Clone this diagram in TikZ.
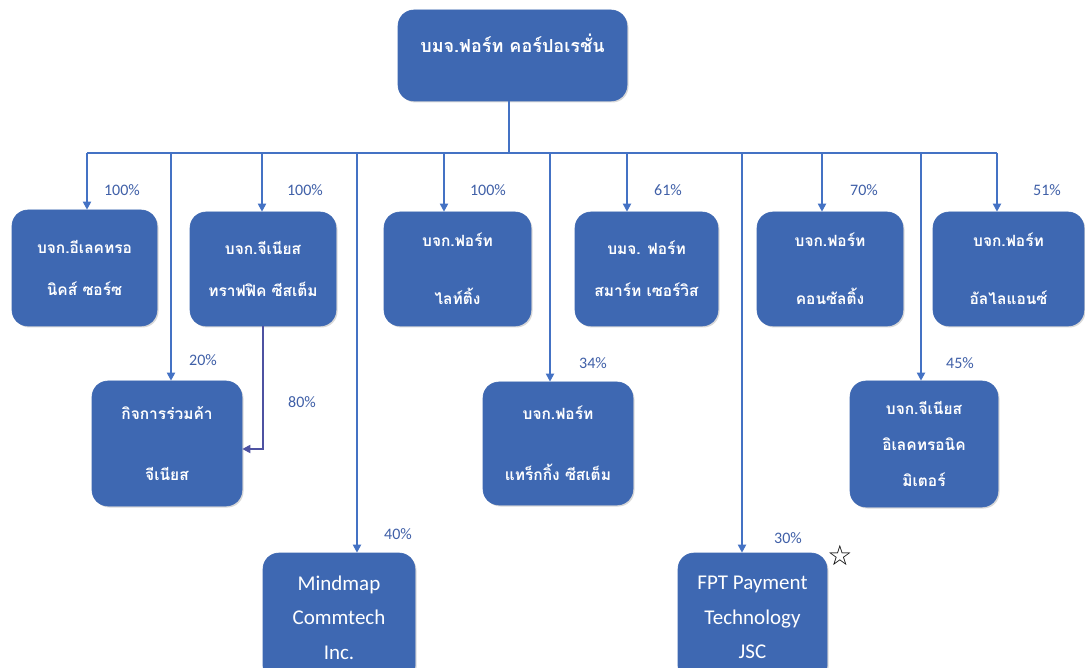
\documentclass[tikz,border=0pt]{standalone}
\usepackage{fontspec}
\setmainfont{Carlito}
\newfontfamily\thaifont[Script=Thai]{Loma}
\newfontfamily\symfont{DejaVu Sans}
\usetikzlibrary{arrows.meta,shadows}
\definecolor{boxfill}{RGB}{62,104,178}
\definecolor{linec}{RGB}{68,114,196}
\definecolor{pctc}{RGB}{64,96,168}
\definecolor{darkline}{RGB}{78,82,162}
\begin{document}
\begin{tikzpicture}[x=1pt,y=-1pt,
  box/.style={rectangle, rounded corners=16pt, fill=boxfill, draw=boxfill, line width=0.6pt,
    text=white, align=center, inner sep=0pt,
    drop shadow={opacity=0.3, shadow xshift=1.5pt, shadow yshift=-1.5pt}},
  thaiA/.style={font=\thaifont\bfseries\fontsize{15.5}{42}\selectfont},
  thaiB/.style={font=\thaifont\bfseries\fontsize{15.5}{58}\selectfont},
  thaiC/.style={font=\thaifont\bfseries\fontsize{15.5}{61}\selectfont},
  thaiD/.style={font=\thaifont\bfseries\fontsize{15.5}{36}\selectfont},
  engbox/.style={font=\fontsize{21}{34.5}\selectfont},
  conn/.style={draw=linec, line width=1.8pt},
  arr/.style={conn, -{Triangle[width=8pt,length=8pt]}},
  arrdark/.style={draw=darkline, line width=1.8pt, -{Triangle[width=8pt,length=8pt]}},
  pct/.style={text=pctc, font=\fontsize{16}{16}\selectfont, inner sep=0pt}
]
\useasboundingbox (0,0) rectangle (1085,668);
\clip (0,0) rectangle (1085,668);
\fill[white] (0,0) rectangle (1085,668);

% top box
\node[box, minimum width=229pt, minimum height=91pt] (top) at (512.5,55.5) {};
\node[text=white, font=\thaifont\bfseries\fontsize{18}{18}\selectfont] (topt) at (512.5,43) {บมจ.ฟอร์ท คอร์ปอเรชั่น};

% first row
\node[box, thaiA, minimum width=145pt, minimum height=116pt] (b1) at (84.5,268) {บจก.อีเลคทรอ\\นิคส์ ซอร์ซ};
\node[box, thaiA, minimum width=146pt, minimum height=114pt] (b2) at (263,269) {บจก.จีเนียส\\ทราฟฟิค ซีสเต็ม};
\node[box, thaiB, minimum width=147pt, minimum height=114pt] (b3) at (457.5,269) {บจก.ฟอร์ท\\ไลท์ติ้ง};
\node[box, thaiA, minimum width=143pt, minimum height=114pt] (b4) at (646.5,269) {บมจ. ฟอร์ท\\สมาร์ท เซอร์วิส};
\node[box, thaiB, minimum width=146pt, minimum height=114pt] (b5) at (830,269) {บจก.ฟอร์ท\\คอนซัลติ้ง};
\node[box, thaiB, minimum width=151pt, minimum height=114pt] (b6) at (1008.5,269) {บจก.ฟอร์ท\\อัลไลแอนซ์};

% second row
\node[box, thaiC, minimum width=150pt, minimum height=125pt] (c1) at (167,443.5) {กิจการร่วมค้า\\จีเนียส};
\node[box, thaiC, minimum width=150pt, minimum height=123pt] (c2) at (558,443.5) {บจก.ฟอร์ท\\แทร็กกิ้ง ซีสเต็ม};
\node[box, thaiD, minimum width=148pt, minimum height=126pt] (c3) at (924,444) {บจก.จีเนียส\\อิเลคทรอนิค\\มิเตอร์};

% third row
\node[box, engbox, minimum width=152pt, minimum height=129pt] (d1) at (339,617.5) {Mindmap\\Commtech\\Inc.};
\node[box, engbox, minimum width=149pt, minimum height=129pt] (d2) at (752.5,617.5) {FPT Payment\\Technology\\JSC};

% bus
\coordinate (busL) at (87,153);
\coordinate (busR) at (997,153);
\coordinate (stem) at (509,153);
\draw[conn] (busL) -- (busR);
\draw[conn] (stem |- top.south) -- (stem);

\coordinate (x1) at (87,153);
\coordinate (x2) at (171,153);
\coordinate (x3) at (262,153);
\coordinate (x4) at (357,153);
\coordinate (x5) at (444,153);
\coordinate (x6) at (550,153);
\coordinate (x7) at (627,153);
\coordinate (x8) at (742,153);
\coordinate (x9) at (822,153);
\coordinate (x10) at (921,153);
\coordinate (x11) at (997,153);

\draw[arr] (x1) -- (x1 |- b1.north);
\draw[arr] (x2) -- (x2 |- c1.north);
\draw[arr] (x3) -- (x3 |- b2.north);
\draw[arr] (x4) -- (x4 |- d1.north);
\draw[arr] (x5) -- (x5 |- b3.north);
\draw[arr] (x6) -- (x6 |- c2.north);
\draw[arr] (x7) -- (x7 |- b4.north);
\draw[arr] (x8) -- (x8 |- d2.north);
\draw[arr] (x9) -- (x9 |- b5.north);
\draw[arr] (x10) -- (x10 |- c3.north);
\draw[arr] (x11) -- (x11 |- b6.north);

% 80% link
\coordinate (k80) at (263,449);
\draw[arrdark] (b2.south) -- (b2.south |- k80) -- (c1.east |- k80);

% percentages
\node[pct] (p1) at (122,190) {100\%};
\node[pct] (p2) at (305,190) {100\%};
\node[pct] (p3) at (488,190) {100\%};
\node[pct] (p4) at (668,190) {61\%};
\node[pct] (p5) at (864,190) {70\%};
\node[pct] (p6) at (1047,190) {51\%};
\node[pct] (p7) at (203,360) {20\%};
\node[pct] (p8) at (302,402) {80\%};
\node[pct] (p9) at (593,363) {34\%};
\node[pct] (p10) at (960,363) {45\%};
\node[pct] (p11) at (398,534) {40\%};
\node[pct] (p12) at (788,538) {30\%};

\node[font=\symfont\fontsize{28}{28}\selectfont, inner sep=0pt] (star) at (840,555) {☆};
\end{tikzpicture}
\end{document}
